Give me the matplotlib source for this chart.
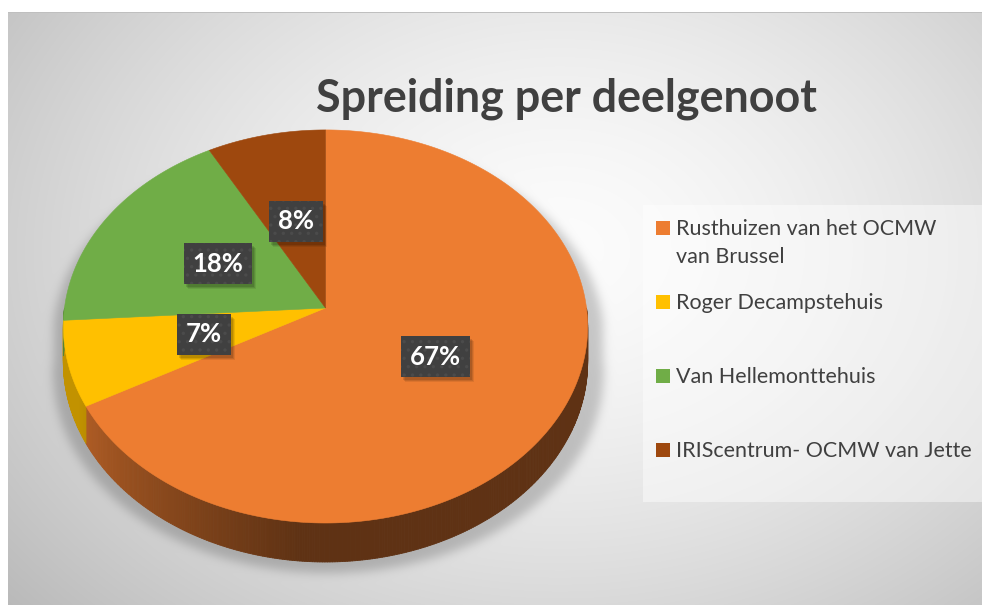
import numpy as np
import matplotlib
matplotlib.use("Agg")
import matplotlib.pyplot as plt
from matplotlib.path import Path
from matplotlib.patches import Polygon, Rectangle
from matplotlib.collections import PolyCollection

# ---------------- data ----------------
title = "Spreiding per deelgenoot"
categories = ["Rusthuizen van het OCMW\nvan Brussel", "Roger Decampstehuis",
              "Van Hellemonttehuis", "IRIScentrum- OCMW van Jette"]
values = [67, 7, 18, 8]
colors = ["#ED7D31", "#FFC000", "#70AD47", "#9E480E"]

# ---------------- geometry (pixel space) ----------------
W, HH = 982, 605
CX, CY = 325.5, 308.0
RX, RY = 261.0, 194.8
K = 0.094
THICK = 35.3
FONT = "Lato"
TXT = "#404040"

fig = plt.figure(figsize=(W / 100, HH / 100), dpi=100)
ax = fig.add_axes([0, 0, 1, 1])
ax.set_xlim(0, W)
ax.set_ylim(HH, 0)
ax.axis("off")


def proj(theta, r=1.0, z=0.0):
    t = np.radians(theta)
    u, v = r * np.cos(t), r * np.sin(t)
    s = 1.0 / (1.0 + K * v)
    return CX + RX * u * s, CY - RY * v * s + z * s


# ---------------- background ----------------
yy, xx = np.mgrid[0:HH, 0:W] + 0.5
dx = (xx - 560) / 560.0
dy = (yy - 250) / 420.0
d = np.hypot(dx, dy)
val = (252 - 45 * d ** 1.5) / 255.0

# shadow from pie silhouette
th_back = np.linspace(0, 180, 181)
th_front = np.linspace(180, 360, 181)
bx, by = proj(th_back)
fx, fy = proj(th_front, z=THICK)
sx = np.concatenate([bx, fx])
sy = np.concatenate([by, fy])
sx = CX + (sx - CX) * 1.05 + 3
sy = sy + 11
path = Path(np.column_stack([sx, sy]))
inside = path.contains_points(np.column_stack([xx.ravel(), yy.ravel()])).reshape(HH, W).astype(float)
sig = 5.0
kx = np.arange(-18, 19)
ker = np.exp(-kx ** 2 / (2 * sig ** 2))
ker /= ker.sum()
blur = np.apply_along_axis(lambda r: np.convolve(r, ker, mode="same"), 1, inside)
blur = np.apply_along_axis(lambda c: np.convolve(c, ker, mode="same"), 0, blur)
val = val * (1 - 0.2 * blur)

bg = np.stack([val, val, val], axis=-1)
bg[:, :8] = 1.0
bg[:12, :] = 1.0
bg[12, 8:] = 0.75
ax.imshow(bg, extent=(0, W, HH, 0), interpolation="bilinear", zorder=0, aspect="auto")

# ---------------- pie ----------------
total = float(sum(values))
fracs = [v / total for v in values]
cum = np.concatenate([[0], np.cumsum(fracs)])
# clockwise from 12 o'clock
spans = [(90 - cum[i + 1] * 360, 90 - cum[i] * 360) for i in range(len(values))]


def shade(theta360):
    return 0.40 + 0.36 * np.clip((265 - theta360) / 60.0, 0, 1)


# sides (front half: -180..0)
side_polys, side_cols = [], []
for (a, b), c in zip(spans, colors):
    base = np.array(matplotlib.colors.to_rgb(c))
    for shift in (-360, 0, 360):
        lo, hi = max(a + shift, -180), min(b + shift, 0)
        if hi <= lo:
            continue
        n = max(2, int((hi - lo) / 0.5) + 1)
        ts = np.linspace(lo, hi, n)
        for t0, t1 in zip(ts[:-1], ts[1:]):
            x0, y0 = proj(t0)
            x1, y1 = proj(t1)
            x0b, y0b = proj(t0, z=THICK)
            x1b, y1b = proj(t1, z=THICK)
            side_polys.append([(x0, y0), (x1, y1), (x1b, y1b), (x0b, y0b)])
            side_cols.append(np.clip(base * shade(0.5 * (t0 + t1) + 360), 0, 1))
pc = PolyCollection(side_polys, facecolors=side_cols, edgecolors=side_cols, linewidths=0.6, zorder=2)
ax.add_collection(pc)

# tops
for (a, b), c in zip(spans, colors):
    ts = np.linspace(a, b, max(3, int(b - a) * 2))
    px, py = proj(ts)
    verts = [(CX, CY)] + list(zip(px, py))
    ax.add_patch(Polygon(verts, closed=True, facecolor=c, edgecolor=c, linewidth=0.4, zorder=3))

# ---------------- data labels ----------------
renderer = fig.canvas.get_renderer()
plt.rcParams["hatch.linewidth"] = 1.2
lab_fs = 18.5
for (a, b), v in zip(spans, values):
    mid = 0.5 * (a + b)
    lx, ly = proj(mid, r=0.48)
    txt = f"{round(v / total * 100)}%"
    t = ax.text(lx, ly, txt, ha="center", va="center", fontsize=lab_fs, family=FONT,
                weight="bold", color="white", zorder=6)
    ext = t.get_window_extent(renderer)
    bw = ext.width + 18
    bh = 41
    for k, al in ((5, 0.08), (4, 0.1), (3, 0.12)):
        ax.add_patch(Rectangle((lx - bw / 2 + k - 1, ly - bh / 2 + k), bw, bh, facecolor="black",
                               alpha=al, edgecolor="none", zorder=4))
    ax.add_patch(Rectangle((lx - bw / 2, ly - bh / 2), bw, bh, facecolor="#404040",
                           edgecolor="#4b4b4b", linewidth=0, hatch="..", zorder=5))


# ---------------- title ----------------
def fit(text, target_w, weight="normal"):
    t = ax.text(0, 0, text, fontsize=20, family=FONT, weight=weight)
    w = t.get_window_extent(renderer).width
    t.remove()
    return 20 * target_w / w


tfs = fit(title, 502, "bold")
ax.text(566.5, 112, title, ha="center", va="baseline", fontsize=tfs, family=FONT,
        weight="bold", color=TXT, zorder=7)

# ---------------- legend ----------------
ax.add_patch(Rectangle((643, 205), W - 643, 297, facecolor="white", alpha=0.45,
                       edgecolor="none", zorder=4))
lines_all = [c.split("\n") for c in categories]
lfs = fit(lines_all[0][0], 261)
base0, step = 235, 73.9
for i, (lines, c) in enumerate(zip(lines_all, colors)):
    bl = base0 + step * i
    ax.add_patch(Rectangle((656, bl - 14), 14, 14, facecolor=c, edgecolor="none", zorder=6))
    for j, ln in enumerate(lines):
        ax.text(676, bl + 28 * j, ln, ha="left", va="baseline", fontsize=lfs, family=FONT,
                color=TXT, zorder=7)

fig.savefig("out.png", dpi=100)
